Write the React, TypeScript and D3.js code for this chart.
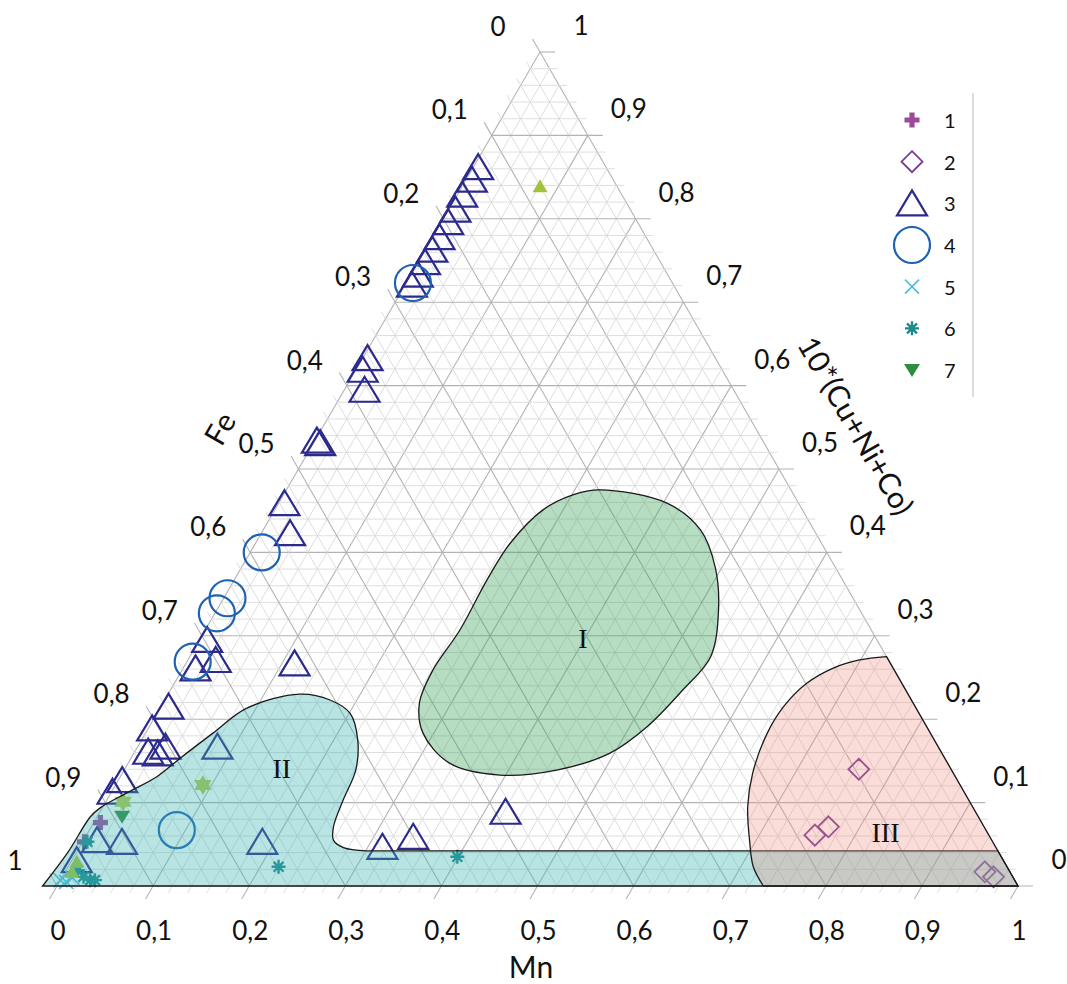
import React from 'react';
import * as d3 from 'd3';

const W = 1067;
const H = 984;

// ternary points as [Mn, 10*(Cu+Ni+Co)]; Fe = 1 - Mn - Cu
const series1: [number, number][] = [[0.007, 0.076], [0.002, 0.053]];
const series2: [number, number][] = [[0.764, 0.14], [0.767, 0.071], [0.758, 0.061], [0.957, 0.017], [0.969, 0.011]];
const series3: [number, number][] = [
  [0.005, 0.862], [0.006, 0.847], [0.005, 0.829], [0.007, 0.811], [0.007, 0.796], [0.007, 0.778],
  [0.007, 0.763], [0.007, 0.748], [0.007, 0.733], [0.007, 0.721],
  [0.005, 0.633], [0.007, 0.619], [0.021, 0.595],
  [0.002, 0.534], [0.007, 0.531], [0.006, 0.459], [0.03, 0.423],
  [0.008, 0.295], [0.029, 0.271], [0.013, 0.261], [0.113, 0.267],
  [0.008, 0.215], [0.004, 0.189], [0.029, 0.167], [0.014, 0.161], [0.025, 0.159], [0.083, 0.167],
  [0.004, 0.127], [0.001, 0.113], [0.014, 0.055], [0.041, 0.053], [0.005, 0.031],
  [0.187, 0.053], [0.315, 0.047], [0.341, 0.059], [0.422, 0.089],
];
const series4: [number, number][] = [[0.007, 0.723], [0.012, 0.4], [0.004, 0.345], [0.002, 0.327], [0.006, 0.269], [0.091, 0.067]];
const series5: [number, number][] = [[0.0, 0.007], [0.007, 0.005], [0.011, 0.01]];
const series6: [number, number][] = [[0.005, 0.053], [0.012, 0.019], [0.022, 0.011], [0.031, 0.007], [0.036, 0.007], [0.219, 0.023], [0.399, 0.035]];
const series7: [number, number][] = [[0.026, 0.083]];
const series8: [number, number][] = [[0.081, 0.839], [0.006, 0.029], [0.007, 0.017]];
const series9: [number, number][] = [[0.091, 0.121], [0.018, 0.101]];

const legendNames = ['1', '2', '3', '4', '5', '6', '7'];
const legendKinds = ['plus', 'diamond', 'tri', 'circle', 'x', 'star', 'down'];

const regionI: [number, number][] = [
  [0.326, 0.475], [0.404, 0.459], [0.455, 0.427], [0.493, 0.382], [0.522, 0.331], [0.542, 0.275],
  [0.533, 0.235], [0.518, 0.191], [0.495, 0.159], [0.45, 0.139], [0.394, 0.133], [0.335, 0.147],
  [0.289, 0.183], [0.267, 0.219], [0.261, 0.259], [0.265, 0.307], [0.263, 0.367], [0.265, 0.411],
  [0.279, 0.451], [0.301, 0.469],
];
const regionIICurve: [number, number][] = [
  [-0.015, 0], [-0.009, 0.04], [-0.007, 0.083], [-0.002, 0.094], [0.017, 0.112], [0.038, 0.131],
  [0.051, 0.153], [0.07, 0.183], [0.09, 0.213], [0.137, 0.23], [0.172, 0.223], [0.201, 0.207],
  [0.225, 0.175], [0.241, 0.139], [0.246, 0.103], [0.252, 0.071], [0.26, 0.055], [0.275, 0.046],
  [0.301, 0.042],
];
const regionIIBand: [number, number][] = [[0.958, 0.042], [1, 0]];
const regionIIICurve: [number, number][] = [
  [0.735, 0], [0.713, 0.023], [0.693, 0.055], [0.671, 0.095], [0.656, 0.135], [0.647, 0.183],
  [0.648, 0.215], [0.658, 0.243], [0.676, 0.261], [0.699, 0.271], [0.725, 0.275],
];
const regionIIIEdge: [number, number][] = [[0.725, 0.275], [1, 0]];
const regionNames = ['I', 'II', 'III'];
const regionLabelPos: [number, number][] = [[0.398, 0.297], [0.163, 0.141], [0.83, 0.064]];

const majorTicks = d3.range(0, 11).map((i) => i / 10);
const tickText = majorTicks.map((v) => (v === 0 ? '0' : v === 1 ? '1' : '0,' + Math.round(v * 10)));
const gridSteps = d3.range(0, 51).map((i) => i / 50);

// triangle geometry
const xLeft = 57;
const xRight = 1018;
const xApex = 540;
const yBase = 886;
const yApex = 52;

const mnScale = d3.scaleLinear().domain([0, 1]).range([xLeft, xRight]);
const cuScale = d3.scaleLinear().domain([0, 1]).range([yBase, yApex]);
const cuShift = d3.scaleLinear().domain([0, 1]).range([0, xApex - xLeft]);
const pt = (mn: number, cu: number): [number, number] => [mnScale(mn) + cuShift(cu), cuScale(cu)];

const unit = (dx: number, dy: number) => {
  const l = Math.hypot(dx, dy);
  return [dx / l, dy / l];
};
const dirMn = unit(xLeft - xApex, yBase - yApex); // down-left
const dirFe = unit(xApex - xRight, yApex - yBase); // up-left

const FONT = 'Lato, "Open Sans", sans-serif';

function Marker({ kind, x, y }: { kind: string; x: number; y: number }) {
  const t = `translate(${x},${y})`;
  switch (kind) {
    case 'plus':
      return <path transform={t} d="M-2.6,-7.5H2.6V-2.6H7.5V2.6H2.6V7.5H-2.6V2.6H-7.5V-2.6H-2.6Z" fill="#9b4a99" />;
    case 'diamond':
      return <path transform={t} d="M0,-10.5L10.5,0L0,10.5L-10.5,0Z" fill="none" stroke="#7a3a96" strokeWidth={1.8} />;
    case 'tri':
      return <path transform={t} d="M0,-13L15,12L-15,12Z" fill="none" stroke="#2c2a8d" strokeWidth={2.2} />;
    case 'circle':
      return <circle cx={x} cy={y} r={18} fill="none" stroke="#1d62b3" strokeWidth={2.2} />;
    case 'x':
      return <path transform={t} d="M-7,-7L7,7M-7,7L7,-7" stroke="#4cbde0" strokeWidth={1.6} />;
    case 'star':
      return (
        <path transform={t} d={d3.range(4).map((i) => {
          const a = (i * Math.PI) / 4;
          return `M${-7 * Math.cos(a)},${-7 * Math.sin(a)}L${7 * Math.cos(a)},${7 * Math.sin(a)}`;
        }).join('')} stroke="#1b8a8c" strokeWidth={2.4} />
      );
    case 'down':
      return <path transform={t} d="M-8,-6L8,-6L0,7Z" fill="#2f8e3d" />;
    case 'up':
      return <path transform={t} d="M0,-7L7.5,6L-7.5,6Z" fill="#a4c33c" />;
    case 'hex':
      return <path transform={t} d="M0,-10L8.7,5L-8.7,5ZM0,10L-8.7,-5L8.7,-5Z" fill="#b3c84a" />;
    default:
      return null;
  }
}

export default function App() {
  const lineGen = d3.line<[number, number]>();
  const closedCurve = d3.line<[number, number]>().curve(d3.curveCatmullRomClosed.alpha(0.5));
  const openCurve = d3.line<[number, number]>().curve(d3.curveCatmullRom.alpha(0.5));

  const pathI = closedCurve(regionI.map(([m, c]) => pt(m, c))) || '';
  const pathII =
    (openCurve(regionIICurve.map(([m, c]) => pt(m, c))) || '') +
    regionIIBand.map(([m, c]) => 'L' + pt(m, c).join(',')).join('') +
    'Z';
  const pathIII =
    (lineGen(regionIIIEdge.map(([m, c]) => pt(m, c))) || '') +
    (openCurve(regionIIICurve.map(([m, c]) => pt(m, c))) || '').replace(/^M/, 'L') +
    'Z';

  const grid: JSX.Element[] = [];
  gridSteps.forEach((v, i) => {
    const major = i % 5 === 0;
    const stroke = major ? '#b3b3b3' : '#dadada';
    const sw = major ? 1.1 : 0.9;
    const ext = major ? 15 : 8;
    // horizontal (Cu) line + tick to the right
    const h0 = pt(0, v);
    const h1 = pt(1 - v, v);
    grid.push(<line key={`h${i}`} x1={h0[0]} y1={h0[1]} x2={h1[0] + ext} y2={h1[1]} stroke={stroke} strokeWidth={sw} />);
    // Mn line (parallel to left edge) + tick below the base
    const m0 = pt(v, 1 - v);
    const m1 = pt(v, 0);
    grid.push(<line key={`m${i}`} x1={m0[0]} y1={m0[1]} x2={m1[0] + dirMn[0] * ext} y2={m1[1] + dirMn[1] * ext} stroke={stroke} strokeWidth={sw} />);
    // Fe line (parallel to right edge) + tick beyond the left edge
    const f0 = pt(1 - v, 0);
    const f1 = pt(0, 1 - v);
    grid.push(<line key={`f${i}`} x1={f0[0]} y1={f0[1]} x2={f1[0] + dirFe[0] * ext} y2={f1[1] + dirFe[1] * ext} stroke={stroke} strokeWidth={sw} />);
  });

  const allSeries: [string, [number, number][]][] = [
    ['plus', series1], ['diamond', series2], ['tri', series3], ['circle', series4],
    ['x', series5], ['star', series6], ['down', series7], ['up', series8], ['hex', series9],
  ];

  const legendY = d3.scaleLinear().domain([0, 6]).range([120, 370]);

  return (
    <svg width={W} height={H} style={{ position: 'absolute', left: 0, top: 0, background: '#fff' }}>
      <rect width={W} height={H} fill="#fff" />
      <g>{grid}</g>

      {/* tick labels */}
      <g fontFamily={FONT} fontSize={26} fill="#111" textAnchor="middle" dominantBaseline="central">
        {majorTicks.map((f, i) => {
          const p = pt(0, 1 - f);
          return <text key={`fe${i}`} x={p[0] - 42} y={p[1] - 26}>{tickText[i]}</text>;
        })}
        {majorTicks.map((c, i) => {
          const p = pt(1 - c, c);
          return <text key={`cu${i}`} x={p[0] + 41} y={p[1] - 27}>{tickText[i]}</text>;
        })}
        {majorTicks.map((m, i) => {
          const p = pt(m, 0);
          return <text key={`mn${i}`} x={p[0] + 1} y={p[1] + 44}>{tickText[i]}</text>;
        })}
      </g>

      {/* axis titles */}
      <g fontFamily={FONT} fontSize={30} fill="#111" textAnchor="middle" dominantBaseline="central">
        <text x={531} y={966}>Mn</text>
        <text transform="translate(219,428) rotate(-60)">Fe</text>
        <text transform="translate(857,425) rotate(60)">10*(Cu+Ni+Co)</text>
      </g>

      {/* data */}
      <g>
        {allSeries.map(([kind, data]) =>
          data.map(([m, c], j) => {
            const [x, y] = pt(m, c);
            return <Marker key={`${kind}${j}`} kind={kind} x={x} y={y} />;
          })
        )}
      </g>

      {/* fields */}
      <path d={pathII} fill="#3cb4b4" fillOpacity={0.36} stroke="#1a1a1a" strokeWidth={1.3} />
      <path d={pathIII} fill="#f08a80" fillOpacity={0.3} stroke="#1a1a1a" strokeWidth={1.3} />
      <path d={pathI} fill="#3fa45f" fillOpacity={0.38} stroke="#1a1a1a" strokeWidth={1.3} />
      <g fontFamily='"Liberation Serif", "DejaVu Serif", serif' fontSize={28} fill="#111" textAnchor="middle" dominantBaseline="central">
        {regionNames.map((n, i) => {
          const p = pt(regionLabelPos[i][0], regionLabelPos[i][1]);
          return <text key={n} x={p[0]} y={p[1]}>{n}</text>;
        })}
      </g>

      {/* legend */}
      <g>
        <line x1={973} y1={93} x2={973} y2={397} stroke="#c4c4c4" strokeWidth={1.2} />
        {legendNames.map((n, i) => (
          <g key={n}>
            <Marker kind={legendKinds[i]} x={912} y={legendY(i)} />
            <text x={944} y={legendY(i)} fontFamily={FONT} fontSize={20} fill="#111" dominantBaseline="central">{n}</text>
          </g>
        ))}
      </g>
    </svg>
  );
}
